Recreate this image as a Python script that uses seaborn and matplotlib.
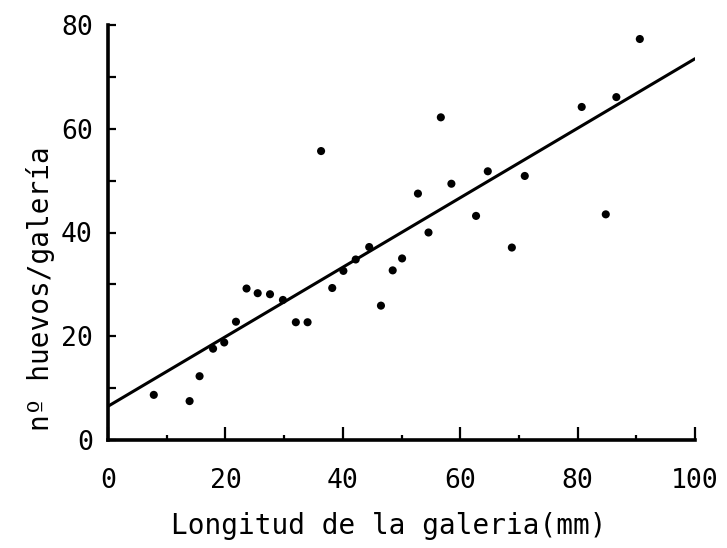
import matplotlib
matplotlib.use("Agg")
import matplotlib.pyplot as plt
import seaborn as sns
import pandas as pd

# Gallery length (mm) and number of eggs per gallery
longitud = [7.8, 13.9, 15.6, 17.9, 19.8, 21.8, 23.6, 25.5, 27.6, 29.8,
            32.0, 34.0, 36.3, 38.2, 40.1, 42.2, 44.5, 46.5, 48.5, 50.1,
            52.8, 54.6, 56.7, 58.5, 62.7, 64.7, 68.8, 71.0, 80.7, 84.8,
            86.6, 90.6]
huevos = [8.7, 7.5, 12.3, 17.6, 18.8, 22.8, 29.2, 28.3, 28.1, 27.0,
          22.7, 22.7, 55.7, 29.3, 32.6, 34.8, 37.2, 25.9, 32.7, 35.0,
          47.5, 40.0, 62.2, 49.4, 43.2, 51.8, 37.1, 50.9, 64.2, 43.5,
          66.1, 77.3]

# Fitted regression line (end points)
recta_x = [0, 100]
recta_y = [6.5, 73.5]

x_ticks = [0, 20, 40, 60, 80, 100]
x_minor = [10, 30, 50, 70, 90]
y_ticks = [0, 20, 40, 60, 80]
y_minor = [10, 30, 50, 70]

sns.set_style("white")
plt.rcParams["font.family"] = ["DejaVu Sans Mono", "DejaVu Sans"]

df = pd.DataFrame({"longitud": longitud, "huevos": huevos})
df_recta = pd.DataFrame({"x": recta_x, "y": recta_y})

fig = plt.figure(figsize=(7.27, 5.48), dpi=100)
ax = fig.add_axes([108 / 727, 108 / 548, 587 / 727, 415 / 548])

sns.scatterplot(data=df, x="longitud", y="huevos", color="black",
                s=34, edgecolor="none", ax=ax, zorder=3)
sns.lineplot(data=df_recta, x="x", y="y", color="black", linewidth=2.2,
             ax=ax, zorder=2)

ax.set_xlim(0, 100)
ax.set_ylim(0, 80)

for side in ("top", "right"):
    ax.spines[side].set_visible(False)
for side in ("left", "bottom"):
    ax.spines[side].set_color("black")
    ax.spines[side].set_linewidth(2.6)

ax.set_xticks(x_ticks)
ax.set_xticks(x_minor, minor=True)
ax.set_yticks(y_ticks)
ax.set_yticks(y_minor, minor=True)

ax.tick_params(axis="x", which="major", bottom=True, direction="in",
               length=9.5, width=1.6, color="black", pad=20, labelsize=19,
               labelcolor="black")
ax.tick_params(axis="x", which="minor", bottom=True, direction="in",
               length=3.8, width=1.6, color="black")
ax.tick_params(axis="y", which="both", left=True, direction="in",
               length=6, width=1.6, color="black", pad=11, labelsize=19,
               labelcolor="black")

ax.set_xlabel("Longitud de la galeria(mm)", fontsize=20, color="black")
ax.set_ylabel("nº huevos/galería", fontsize=20, color="black")
ax.xaxis.set_label_coords(0.479, -0.173)
ax.yaxis.set_label_coords(-0.09, 0.364)

fig.savefig("out.png", dpi=100, facecolor="white")
